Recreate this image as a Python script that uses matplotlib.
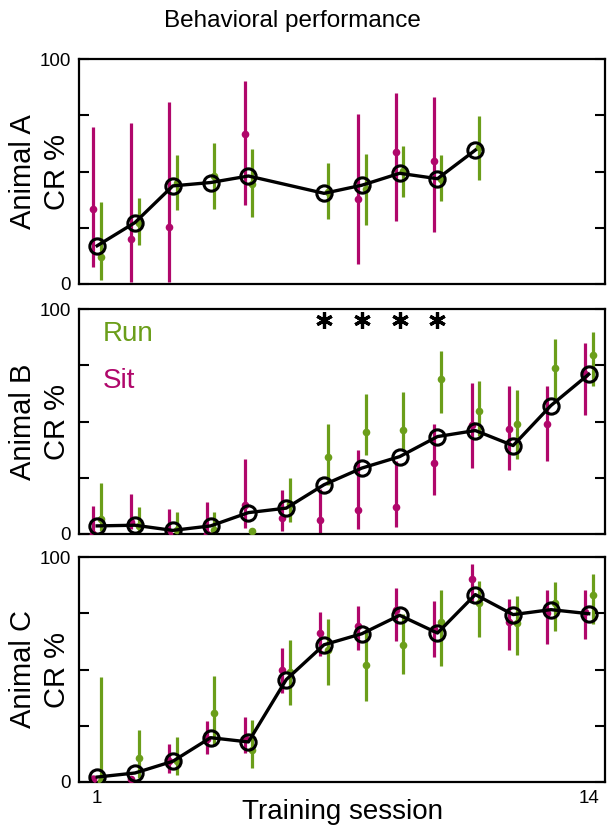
import numpy as np
import matplotlib
matplotlib.use("Agg")
import matplotlib.pyplot as plt

plt.rcParams['font.family'] = ['Liberation Sans', 'DejaVu Sans']

SIT_COLOR = '#B0076B'
RUN_COLOR = '#6B9E1A'

sessions = list(range(1, 15))
nan = np.nan

# ---------------- Animal A ----------------
a_mean = [17.0, 27.3, 43.6, 45.1, 48.0, nan, 40.3, 43.9, 49.2, 46.8, 59.5, nan, nan, nan]
a_sit = [33.5, 19.9, 25.4, nan, 66.8, nan, nan, 37.7, 58.6, 54.7, nan, nan, nan, nan]
a_sit_hi = [69.9, 71.6, 80.8, nan, 90.1, nan, nan, 75.5, 84.9, 83.2, nan, nan, nan, nan]
a_sit_lo = [7.7, 0.7, 0.7, nan, 35.2, nan, nan, 8.7, 27.8, 23.3, nan, nan, nan, nan]
a_run = [12.1, 27.0, 45.1, 47.9, 44.6, nan, 40.9, 42.1, 50.2, 46.8, 61.0, nan, nan, nan]
a_run_hi = [36.5, 38.1, 57.3, 62.8, 60.1, nan, 53.6, 57.9, 61.3, 57.2, 74.6, nan, nan, nan]
a_run_lo = [1.8, 17.4, 32.9, 33.5, 29.8, nan, 28.8, 26.4, 38.8, 37.1, 46.2, nan, nan, nan]

# ---------------- Animal B ----------------
b_mean = [3.6, 3.9, 1.6, 3.6, 9.5, 11.5, 21.9, 29.3, 34.4, 43.3, 46.0, 39.3, 57.1, 71.0]
b_sit = [0.0, 5.4, 0.0, 0.0, 12.9, 7.3, 6.1, 10.7, 12.2, 31.4, 48.5, 46.7, 49.0, 71.0]
b_sit_hi = [12.5, 17.7, 11.3, 14.4, 33.3, 19.6, 20.2, 37.5, 32.3, 48.7, 67.3, 65.6, 65.6, 85.0]
b_sit_lo = [0.0, 2.1, 0.0, 0.0, 2.5, 1.3, 0.6, 2.1, 3.0, 17.4, 29.3, 28.3, 32.3, 52.7]
b_run = [6.8, 3.6, 1.6, 1.6, 1.3, 13.2, 34.4, 45.5, 46.4, 69.0, 54.6, 48.7, 73.8, 79.5]
b_run_hi = [22.6, 12.2, 10.0, 10.0, 2.8, 25.1, 49.0, 62.2, 63.2, 81.4, 67.9, 64.1, 86.6, 89.6]
b_run_lo = [1.3, 0.3, 0.0, 0.0, 0.0, 5.4, 21.9, 35.0, 37.5, 53.7, 43.5, 33.3, 58.3, 65.8]
b_signif = [7, 8, 9, 10]

# ---------------- Animal C ----------------
c_mean = [2.2, 4.0, 9.2, 19.7, 17.8, 45.5, 61.0, 65.9, 74.1, 66.2, 83.3, 74.4, 76.6, 74.8]
c_sit = [1.2, 1.2, 9.2, 19.0, 19.7, 49.6, 66.4, 69.3, 76.6, 67.9, 90.1, 71.1, 75.1, 75.6]
c_sit_hi = [3.0, 2.0, 16.7, 27.0, 28.9, 59.6, 75.6, 78.2, 86.2, 80.3, 97.0, 81.2, 85.2, 85.2]
c_sit_lo = [0.0, 0.5, 4.0, 12.4, 13.0, 39.7, 55.9, 58.5, 62.7, 55.6, 80.3, 58.5, 61.2, 63.4]
c_run = [0.3, 10.7, 9.2, 30.7, 14.1, 48.9, 58.5, 52.1, 61.0, 71.1, 79.7, 70.8, 79.6, 83.3]
c_run_hi = [46.7, 23.3, 20.0, 47.1, 27.4, 63.3, 72.6, 67.9, 74.5, 85.2, 89.3, 82.5, 88.9, 92.6]
c_run_lo = [0.0, 1.9, 3.3, 16.0, 6.2, 34.1, 43.3, 36.0, 47.9, 51.6, 64.4, 56.3, 67.0, 70.1]

animals = ['Animal A', 'Animal B', 'Animal C']
title = 'Behavioral performance'
xlabel = 'Training session'
ylabel = 'CR %'

data = [
    (a_mean, a_sit, a_sit_lo, a_sit_hi, a_run, a_run_lo, a_run_hi),
    (b_mean, b_sit, b_sit_lo, b_sit_hi, b_run, b_run_lo, b_run_hi),
    (c_mean, c_sit, c_sit_lo, c_sit_hi, c_run, c_run_lo, c_run_hi),
]

W, H = 615, 834
fig = plt.figure(figsize=(W / 100, H / 100), dpi=100)

left_px, right_px = 79, 605
tops = [59, 309, 557]
height_px = 225

x = np.array(sessions, dtype=float)
off = 0.1

axes = []
for i, (top, name, d) in enumerate(zip(tops, animals, data)):
    ax = fig.add_axes([left_px / W, 1 - (top + height_px) / H,
                       (right_px - left_px) / W, height_px / H])
    axes.append(ax)
    mean, sit, sit_lo, sit_hi, run, run_lo, run_hi = [np.array(v, dtype=float) for v in d]

    # error bars
    ax.vlines(x - off, sit_lo, sit_hi, color=SIT_COLOR, lw=2.3, zorder=2)
    ax.plot(x - off, sit, 'o', color=SIT_COLOR, ms=5.5, mec='none', zorder=3)
    ax.vlines(x + off, run_lo, run_hi, color=RUN_COLOR, lw=2.3, zorder=2)
    ax.plot(x + off, run, 'o', color=RUN_COLOR, ms=5.5, mec='none', zorder=3)

    # mean line with open circles
    m = ~np.isnan(mean)
    ax.plot(x[m], mean[m], '-', color='black', lw=2.4, zorder=4)
    ax.plot(x[m], mean[m], 'o', mfc='none', mec='black', mew=2.2, ms=11, zorder=5)

    ax.set_xlim(0.52, 14.43)
    ax.set_ylim(0, 100)
    ax.set_yticks([0, 25, 50, 75, 100])
    ax.set_yticklabels(['0', '', '', '', '100'], fontsize=13.5)
    ax.tick_params(axis='y', direction='in', length=7, width=1.5,
                   left=True, right=True, pad=6)
    if i == 2:
        ax.set_xticks([1, 14])
        ax.set_xticklabels(['1', '14'], fontsize=13.5)
        ax.tick_params(axis='x', length=0, pad=6)
        ax.set_xlabel(xlabel, fontsize=20, labelpad=-6)
    else:
        ax.set_xticks([])
    for s in ax.spines.values():
        s.set_linewidth(1.6)
    yc = 1 - (top + height_px / 2) / H
    fig.text(40 / W, yc, name + '\n' + ylabel, fontsize=21, rotation=90,
             ha='center', va='center', linespacing=1.25, multialignment='center')

# significance asterisks in Animal B
axB = axes[1]
axB.plot(b_signif, [95] * len(b_signif), linestyle='none', marker=(6, 2, 0),
         ms=12, mew=2.3, color='black', zorder=6)
axB.text(0.045, 0.89, 'Run', transform=axB.transAxes, color=RUN_COLOR,
         fontsize=20, va='center', ha='left')
axB.text(0.045, 0.68, 'Sit', transform=axB.transAxes, color=SIT_COLOR,
         fontsize=20, va='center', ha='left')

fig.text((163 + 422) / 2 / W, 1 - 21 / H, title, fontsize=17.5,
         ha='center', va='center')

fig.savefig('out.png', dpi=100)
